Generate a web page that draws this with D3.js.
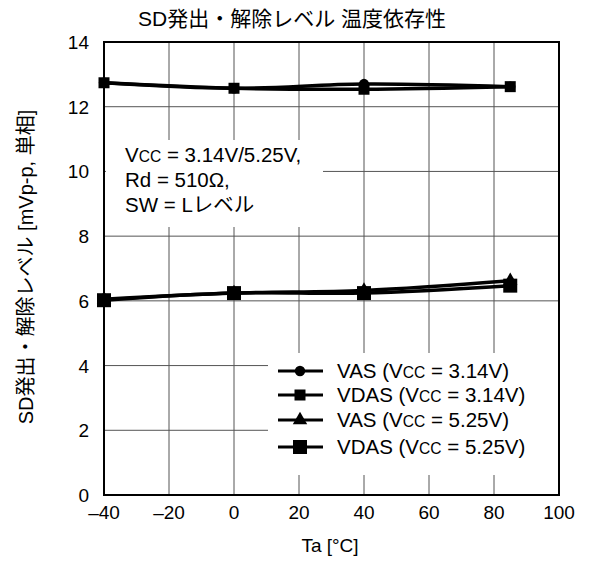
<!DOCTYPE html>
<html>
<head>
<meta charset="utf-8">
<script src="https://cdn.jsdelivr.net/npm/d3@7"></script>
<style>
  body { margin: 0; background: #fff; }
  text { font-family: "Liberation Sans", Arial, "Noto Sans CJK JP", sans-serif; fill: #000; }
</style>
</head>
<body>
<div id="chart"></div>
<script>
// temperatures [°C]
const temps = [-40, 0, 40, 85];

// SD levels [mVp-p]
const vas314 = [12.74, 12.57, 12.70, 12.62];
const vdas314 = [12.74, 12.57, 12.54, 12.62];
const vas525 = [6.05, 6.24, 6.32, 6.62];
const vdas525 = [6.02, 6.24, 6.24, 6.47];

const xTicks = [-40, -20, 0, 20, 40, 60, 80, 100];
const yTicks = [0, 2, 4, 6, 8, 10, 12, 14];

const seriesNames = ['VAS', 'VDAS', 'VAS', 'VDAS'];
const seriesVcc = ['3.14V', '3.14V', '5.25V', '5.25V'];

const width = 590, height = 561;
const margin = { top: 42, right: 31, bottom: 66, left: 104 };

const svg = d3.select('#chart')
    .append('svg')
    .attr('width', width)
    .attr('height', height);

const x = d3.scaleLinear([-40, 100], [margin.left, width - margin.right]);
const y = d3.scaleLinear([0, 14], [height - margin.bottom, margin.top]);

// Grid
svg.append('g')
    .selectAll('line')
    .data(xTicks.slice(1, -1))
    .join('line')
    .attr('x1', d => x(d)).attr('x2', d => x(d))
    .attr('y1', y(0)).attr('y2', y(14))
    .attr('stroke', '#555').attr('stroke-width', 1);

svg.append('g')
    .selectAll('line')
    .data(yTicks.slice(1, -1))
    .join('line')
    .attr('x1', x(-40)).attr('x2', x(100))
    .attr('y1', d => y(d)).attr('y2', d => y(d))
    .attr('stroke', '#555').attr('stroke-width', 1);

// white boxes behind annotation and legend
svg.append('rect')
    .attr('x', x(-40) + 2).attr('y', 140)
    .attr('width', 217).attr('height', 87)
    .attr('fill', '#fff');

svg.append('rect')
    .attr('x', 268).attr('y', 353)
    .attr('width', x(100) - 269).attr('height', 122)
    .attr('fill', '#fff');

// Frame
svg.append('rect')
    .attr('x', x(-40)).attr('y', y(14))
    .attr('width', x(100) - x(-40)).attr('height', y(0) - y(14))
    .attr('fill', 'none')
    .attr('stroke', '#000')
    .attr('stroke-width', 2);

// Tick labels
svg.append('g')
    .selectAll('text')
    .data(xTicks)
    .join('text')
    .attr('x', d => x(d))
    .attr('y', y(0) + 24)
    .attr('text-anchor', 'middle')
    .attr('font-size', 19)
    .text(d => String(d).replace('-', '\u2013'));

svg.append('g')
    .selectAll('text')
    .data(yTicks)
    .join('text')
    .attr('x', 89)
    .attr('y', d => y(d) + 7)
    .attr('text-anchor', 'end')
    .attr('font-size', 19)
    .text(d => d);

// Titles
svg.append('text')
    .attr('x', 292).attr('y', 26)
    .attr('text-anchor', 'middle')
    .attr('font-size', 21)
    .text('SD発出・解除レベル 温度依存性');

svg.append('text')
    .attr('x', 330).attr('y', 552)
    .attr('text-anchor', 'middle')
    .attr('font-size', 19)
    .text('Ta [°C]');

svg.append('text')
    .attr('transform', 'translate(33,267) rotate(-90)')
    .attr('text-anchor', 'middle')
    .attr('font-size', 20)
    .text('SD発出・解除レベル [mVp-p, 単相]');

// Vcc text helper: V with small-caps CC
function vccText(sel, before, after) {
    sel.append('tspan').text(before + 'V');
    sel.append('tspan').attr('font-size', '0.76em').text('CC');
    sel.append('tspan').text(after);
}

// Conditions note
const note = svg.append('g').attr('font-size', 20.5);
vccText(note.append('text').attr('x', 125).attr('y', 162), '', ' = 3.14V/5.25V,');
note.append('text').attr('x', 125).attr('y', 187).text('Rd = 510Ω,');
note.append('text').attr('x', 125).attr('y', 212).text('SW = Lレベル');

// Series
const series = [vas314, vdas314, vas525, vdas525].map((vals, i) => ({
    name: seriesNames[i],
    vcc: seriesVcc[i],
    points: temps.map((t, j) => [t, vals[j]])
}));

const line = d3.line()
    .x(d => x(d[0]))
    .y(d => y(d[1]))
    .curve(d3.curveCatmullRom.alpha(0.5));

svg.append('g')
    .selectAll('path')
    .data(series)
    .join('path')
    .attr('d', d => line(d.points))
    .attr('fill', 'none')
    .attr('stroke', '#000')
    .attr('stroke-width', 3.5);

const markerSym = [
    d3.symbol(d3.symbolCircle, 85),
    d3.symbol(d3.symbolSquare, 121),
    d3.symbol(d3.symbolTriangle, 90),
    d3.symbol(d3.symbolSquare, 196)
];

series.forEach((s, i) => {
    svg.append('g')
        .selectAll('path')
        .data(s.points)
        .join('path')
        .attr('transform', d => `translate(${x(d[0])},${y(d[1])})`)
        .attr('d', markerSym[i]())
        .attr('fill', '#000');
});

// Legend
const legendRows = [371, 395, 420, 447];
const legend = svg.append('g');
series.forEach((s, i) => {
    const row = legend.append('g').attr('transform', `translate(0,${legendRows[i]})`);
    row.append('line')
        .attr('x1', 278).attr('x2', 323)
        .attr('stroke', '#000').attr('stroke-width', 3);
    row.append('path')
        .attr('transform', 'translate(300,0)')
        .attr('d', markerSym[i]())
        .attr('fill', '#000');
    const t = row.append('text')
        .attr('x', 337).attr('y', 7)
        .attr('font-size', 20.5);
    vccText(t, s.name + ' (', ' = ' + s.vcc + ')');
});
</script>
</body>
</html>
